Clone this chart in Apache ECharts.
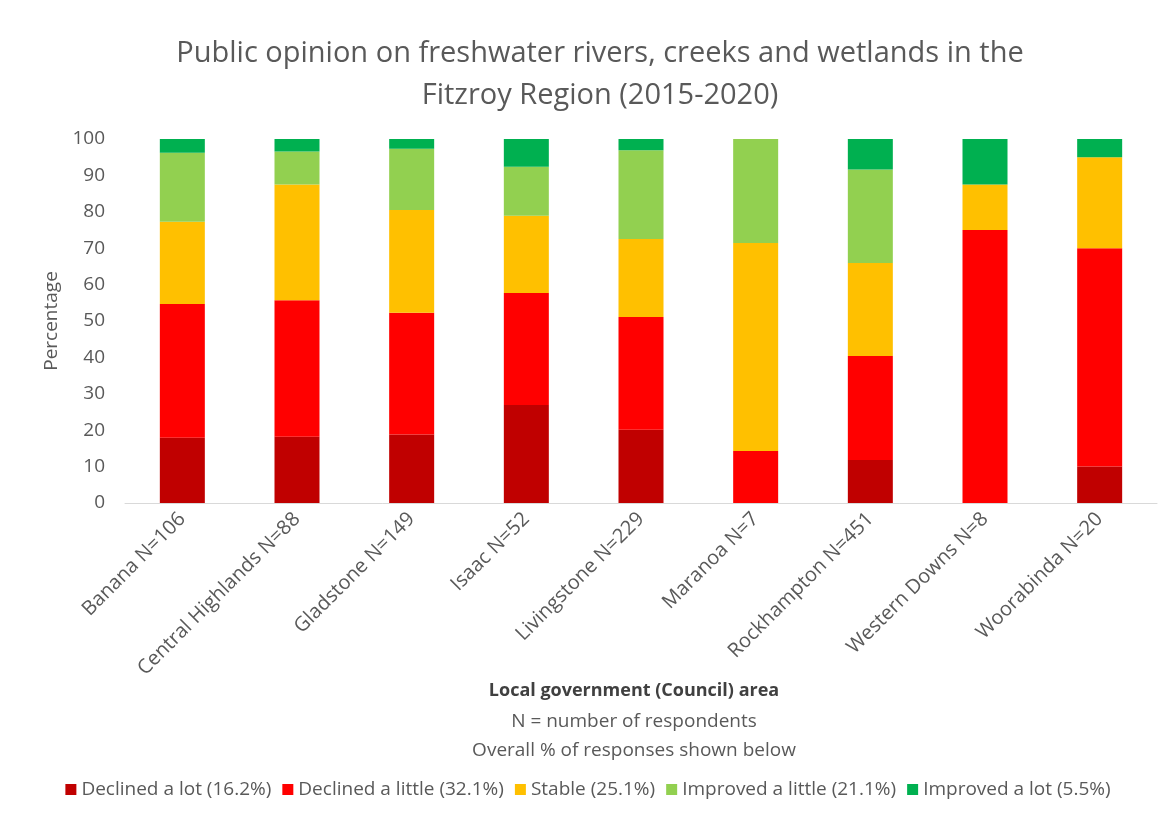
<!DOCTYPE html>
<html>
<head>
<meta charset="utf-8">
<script src="https://cdn.jsdelivr.net/npm/echarts@6/dist/echarts.min.js"></script>
<style>
  html, body { margin: 0; padding: 0; background: #ffffff; }
  #chart { width: 1176px; height: 822px; }
</style>
</head>
<body>
<div id="chart"></div>
<script>
// Council areas and respondent counts
const councils = [
  'Banana N=106', 'Central Highlands N=88', 'Gladstone N=149', 'Isaac N=52',
  'Livingstone N=229', 'Maranoa N=7', 'Rockhampton N=451', 'Western Downs N=8', 'Woorabinda N=20'
];

// Percentage of respondents per opinion category
const declinedALot    = [17.9, 18.2, 18.8, 26.9, 20.1, 0,    11.8, 0,    10];
const declinedALittle = [36.8, 37.5, 33.5, 30.8, 31.0, 14.3, 28.6, 75,   60];
const stable          = [22.6, 31.8, 28.2, 21.2, 21.4, 57.1, 25.5, 12.5, 25];
const improvedALittle = [18.9, 9.1,  16.8, 13.5, 24.4, 28.6, 25.7, 0,    0];
const improvedALot    = [3.8,  3.4,  2.7,  7.7,  3.1,  0,    8.4,  12.5, 5];

const seriesNames = [
  'Declined a lot (16.2%)', 'Declined a little (32.1%)', 'Stable (25.1%)',
  'Improved a little (21.1%)', 'Improved a lot (5.5%)'
];
const seriesColors = ['#C00000', '#FF0000', '#FFC000', '#92D050', '#00B050'];
const yTicks = [0, 10, 20, 30, 40, 50, 60, 70, 80, 90, 100];

const FONT = '"Open Sans", sans-serif';
const GREY = '#595959';

// plot area bounds (px)
const GRID = { left: 125, right: 19, top: 139, bottom: 319 };
const axisTitleX = 634;

const chart = echarts.init(document.getElementById('chart'));
const seriesData = [declinedALot, declinedALittle, stable, improvedALittle, improvedALot];

chart.setOption({
  backgroundColor: '#ffffff',
  animation: false,
  title: {
    text: 'Public opinion on freshwater rivers, creeks and wetlands in the\nFitzroy Region (2015-2020)',
    left: 595,
    textAlign: 'center',
    top: 28,
    textStyle: { fontFamily: FONT, fontSize: 29, fontWeight: 'normal', color: GREY, lineHeight: 42 }
  },
  legend: {
    bottom: 18,
    left: 'center',
    itemWidth: 11,
    itemHeight: 11,
    itemGap: 11,
    icon: 'rect',
    textStyle: { fontFamily: FONT, fontSize: 19, color: GREY },
    data: seriesNames
  },
  grid: GRID,
  xAxis: {
    type: 'category',
    data: councils,
    axisLine: { lineStyle: { color: '#d9d9d9', width: 1 } },
    axisTick: { show: false },
    axisLabel: {
      interval: 0, rotate: 45, margin: 13,
      fontFamily: FONT, fontSize: 20, color: GREY
    }
  },
  yAxis: {
    type: 'value',
    min: yTicks[0],
    max: yTicks[yTicks.length - 1],
    interval: 10,
    name: 'Percentage',
    nameLocation: 'middle',
    nameGap: 62,
    nameTextStyle: { fontFamily: FONT, fontSize: 19, color: GREY },
    axisLine: { show: false },
    axisTick: { show: false },
    splitLine: { show: false },
    axisLabel: { fontFamily: FONT, fontSize: 19, color: GREY, margin: 20 }
  },
  graphic: [
    {
      type: 'text', x: axisTitleX, y: 682,
      style: { text: 'Local government (Council) area', font: 'bold 18px ' + FONT, fill: '#404040', align: 'center' }
    },
    {
      type: 'text', x: axisTitleX, y: 712,
      style: { text: 'N = number of respondents', font: '19px ' + FONT, fill: GREY, align: 'center' }
    },
    {
      type: 'text', x: axisTitleX, y: 741,
      style: { text: 'Overall % of responses shown below', font: '19px ' + FONT, fill: GREY, align: 'center' }
    }
  ],
  series: seriesNames.map((name, i) => ({
    name: name,
    type: 'bar',
    stack: 'total',
    barWidth: 45,
    itemStyle: { color: seriesColors[i] },
    data: seriesData[i]
  }))
});
</script>
</body>
</html>
